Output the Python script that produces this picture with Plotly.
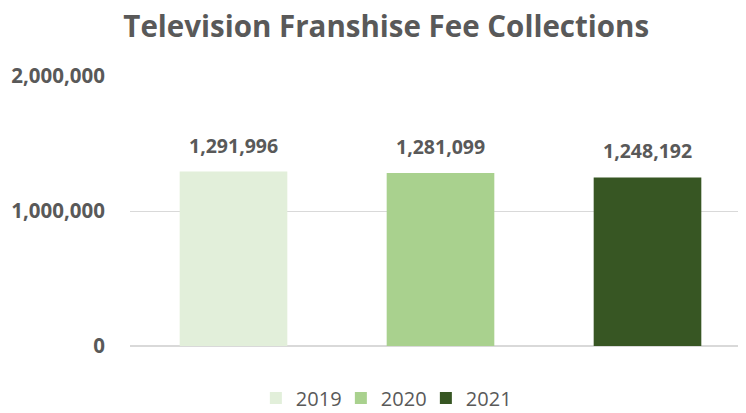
import plotly.graph_objects as go

years = ["2019", "2020", "2021"]
values = [1291996, 1281099, 1248192]
colors = ["#E2EFDA", "#A9D18E", "#375623"]
y_ticks = [0, 1000000, 2000000]
y_tick_labels = ["0", "1,000,000", "2,000,000"]

TXT = "#595959"
FONT = "Open Sans"

fig = go.Figure()
for i, (yr, v, c) in enumerate(zip(years, values, colors)):
    fig.add_trace(go.Bar(
        x=[i], y=[v], name=yr, marker=dict(color=c, line=dict(width=0)),
        width=0.52,
    ))
    fig.add_annotation(
        x=i, y=v, text=f"{v:,}", showarrow=False, yanchor="bottom", yshift=11,
        font=dict(family=FONT, size=19.5, color=TXT, weight="bold"),
    )

fig.update_layout(
    width=746, height=413,
    margin=dict(l=122, r=3, t=68, b=75),
    paper_bgcolor="white", plot_bgcolor="white",
    barmode="overlay",
    title=dict(
        text="<b>Television Franshise Fee Collections</b>",
        x=0.507, xanchor="center", y=0.956, yanchor="middle",
        font=dict(family=FONT, size=29.5, color=TXT),
    ),
    showlegend=True,
    legend=dict(
        orientation="h", x=0.408, xanchor="center", y=-0.193, yanchor="middle",
        font=dict(family=FONT, size=20, color=TXT), traceorder="normal",
        itemwidth=30, entrywidth=40, entrywidthmode="pixels",
    ),
    xaxis=dict(showticklabels=False, showgrid=False, zeroline=False,
               range=[-0.5, 2.5]),
    yaxis=dict(
        range=[0, 2000000], tickvals=y_ticks, ticktext=y_tick_labels,
        gridcolor="#D9D9D9", gridwidth=1, zeroline=True, zerolinecolor="#D9D9D9",
        tickfont=dict(family=FONT, size=20.5, color=TXT, weight="bold"),
        ticklabelstandoff=24,
    ),
)

fig.write_html("out.html")
